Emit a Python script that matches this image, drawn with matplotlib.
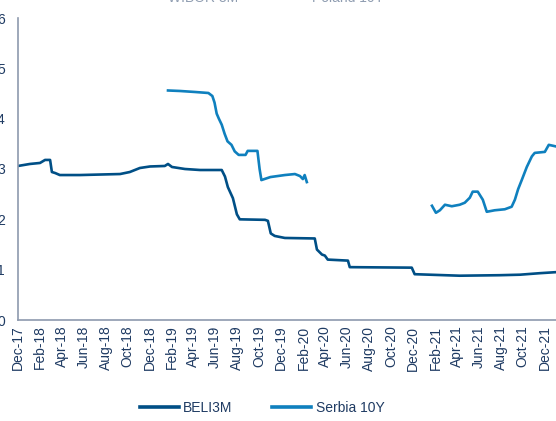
import matplotlib
matplotlib.use("Agg")
import matplotlib.pyplot as plt
import matplotlib.dates as mdates
import numpy as np
import pandas as pd

plt.rcParams['font.family'] = ['Liberation Sans', 'DejaVu Sans']

# --- data ---
beli_dates = ["2017-12-01", "2018-01-03", "2018-01-31", "2018-02-14", "2018-02-28",
              "2018-03-05", "2018-03-14", "2018-03-27", "2018-05-22", "2018-07-16",
              "2018-09-10", "2018-10-07", "2018-11-04", "2018-12-02", "2019-01-12",
              "2019-01-21", "2019-02-01", "2019-03-09", "2019-04-20", "2019-06-19",
              "2019-06-28", "2019-07-06", "2019-07-20", "2019-07-31", "2019-08-08",
              "2019-10-17", "2019-10-25", "2019-11-02", "2019-11-13", "2019-12-11",
              "2020-03-03", "2020-03-09", "2020-03-23", "2020-03-31", "2020-04-08",
              "2020-06-03", "2020-06-08", "2020-11-27", "2020-12-05", "2021-04-09",
              "2021-07-29", "2021-09-23", "2021-11-17", "2021-12-31"]
beli_values = [3.06, 3.10, 3.12, 3.18, 3.18,
               2.94, 2.92, 2.88, 2.88, 2.89,
               2.90, 2.94, 3.02, 3.05, 3.06,
               3.10, 3.04, 3.00, 2.98, 2.98,
               2.85, 2.64, 2.42, 2.10, 2.00,
               1.99, 1.97, 1.72, 1.67, 1.63,
               1.62, 1.40, 1.30, 1.28, 1.20,
               1.18, 1.05, 1.04, 0.91, 0.88,
               0.89, 0.90, 0.93, 0.95]

serbia_dates = ["2019-01-21", "2019-02-23", "2019-04-06", "2019-05-13", "2019-05-24",
                "2019-05-30", "2019-06-05", "2019-06-11", "2019-06-19", "2019-06-27",
                "2019-07-05", "2019-07-16", "2019-07-25", "2019-08-05", "2019-08-24",
                "2019-08-30", "2019-09-26", "2019-10-02", "2019-10-07", "2019-11-01",
                "2019-12-11", "2020-01-08", "2020-01-22", "2020-01-30", "2020-02-04",
                "2020-02-10", "2020-06-01",
                "2021-01-22", "2021-02-02", "2021-02-13", "2021-02-27", "2021-03-18",
                "2021-04-09", "2021-04-23", "2021-05-07", "2021-05-15", "2021-05-29",
                "2021-06-12", "2021-06-23", "2021-07-15", "2021-08-12", "2021-08-31",
                "2021-09-09", "2021-09-18", "2021-09-28", "2021-10-12", "2021-10-26",
                "2021-11-03", "2021-12-01", "2021-12-12", "2021-12-31"]
serbia_values = [4.56, 4.55, 4.53, 4.51, 4.45,
                 4.32, 4.10, 4.00, 3.88, 3.70,
                 3.55, 3.48, 3.35, 3.28, 3.28,
                 3.36, 3.36, 3.00, 2.78, 2.84,
                 2.88, 2.90, 2.86, 2.80, 2.88,
                 2.74, np.nan,
                 2.27, 2.13, 2.18, 2.29, 2.26,
                 2.29, 2.33, 2.43, 2.55, 2.55,
                 2.39, 2.15, 2.18, 2.20, 2.25,
                 2.39, 2.60, 2.78, 3.04, 3.25,
                 3.32, 3.34, 3.48, 3.45]

series_names = ["BELI3M", "Serbia 10Y"]
top_legend_names = ["WIBOR 3M", "Poland 10Y"]
y_ticks = [0, 1, 2, 3, 4, 5, 6]

# --- style ---
text_col = "#1F3B63"
dark_blue = "#004F86"
light_blue = "#0F80BE"
spine_col = "#8E9AAE"

fig = plt.figure(figsize=(5.56, 4.21), dpi=100)
ax = fig.add_axes([18 / 556, 101 / 421, 1 - 18 / 556, 302 / 421])

ax.plot(pd.to_datetime(beli_dates), beli_values, color=dark_blue, lw=1.9,
        label=series_names[0], solid_joinstyle='round')
ax.plot(pd.to_datetime(serbia_dates), serbia_values, color=light_blue, lw=1.9,
        label=series_names[1], solid_joinstyle='round')

ax.set_xlim(pd.Timestamp("2017-12-01"), pd.Timestamp("2022-01-01"))
ax.set_ylim(0, 6)
ax.set_yticks(y_ticks)

ax.xaxis.set_major_locator(mdates.MonthLocator(bymonth=[2, 4, 6, 8, 10, 12]))
ax.xaxis.set_major_formatter(mdates.DateFormatter('%b-%y'))
for lab in ax.get_xticklabels():
    lab.set_rotation(90)

ax.tick_params(axis='x', length=0, pad=4, labelsize=10, labelcolor=text_col)
ax.tick_params(axis='y', length=0, pad=9.5, labelsize=10, labelcolor=text_col)

for s in ['top', 'right']:
    ax.spines[s].set_visible(False)
for s in ['left', 'bottom']:
    ax.spines[s].set_color(spine_col)
    ax.spines[s].set_linewidth(1.2)

leg = fig.legend(loc='center', bbox_to_anchor=(262 / 556, 13 / 421), ncol=2,
                 frameon=False, fontsize=10, handlelength=2.8, handletextpad=0.3,
                 columnspacing=2.9)
for t in leg.get_texts():
    t.set_color(text_col)
for h in leg.get_lines():
    h.set_linewidth(2.6)

# partial legend of the chart above (cut by the crop)
fig.text(168 / 556, 1 - 1.5 / 421, top_legend_names[0], fontsize=10, color=text_col,
         va='baseline', ha='left', alpha=0.5)
fig.text(312 / 556, 1 - 1.5 / 421, top_legend_names[1], fontsize=10, color=text_col,
         va='baseline', ha='left', alpha=0.5)

fig.savefig("out.png", dpi=100)
